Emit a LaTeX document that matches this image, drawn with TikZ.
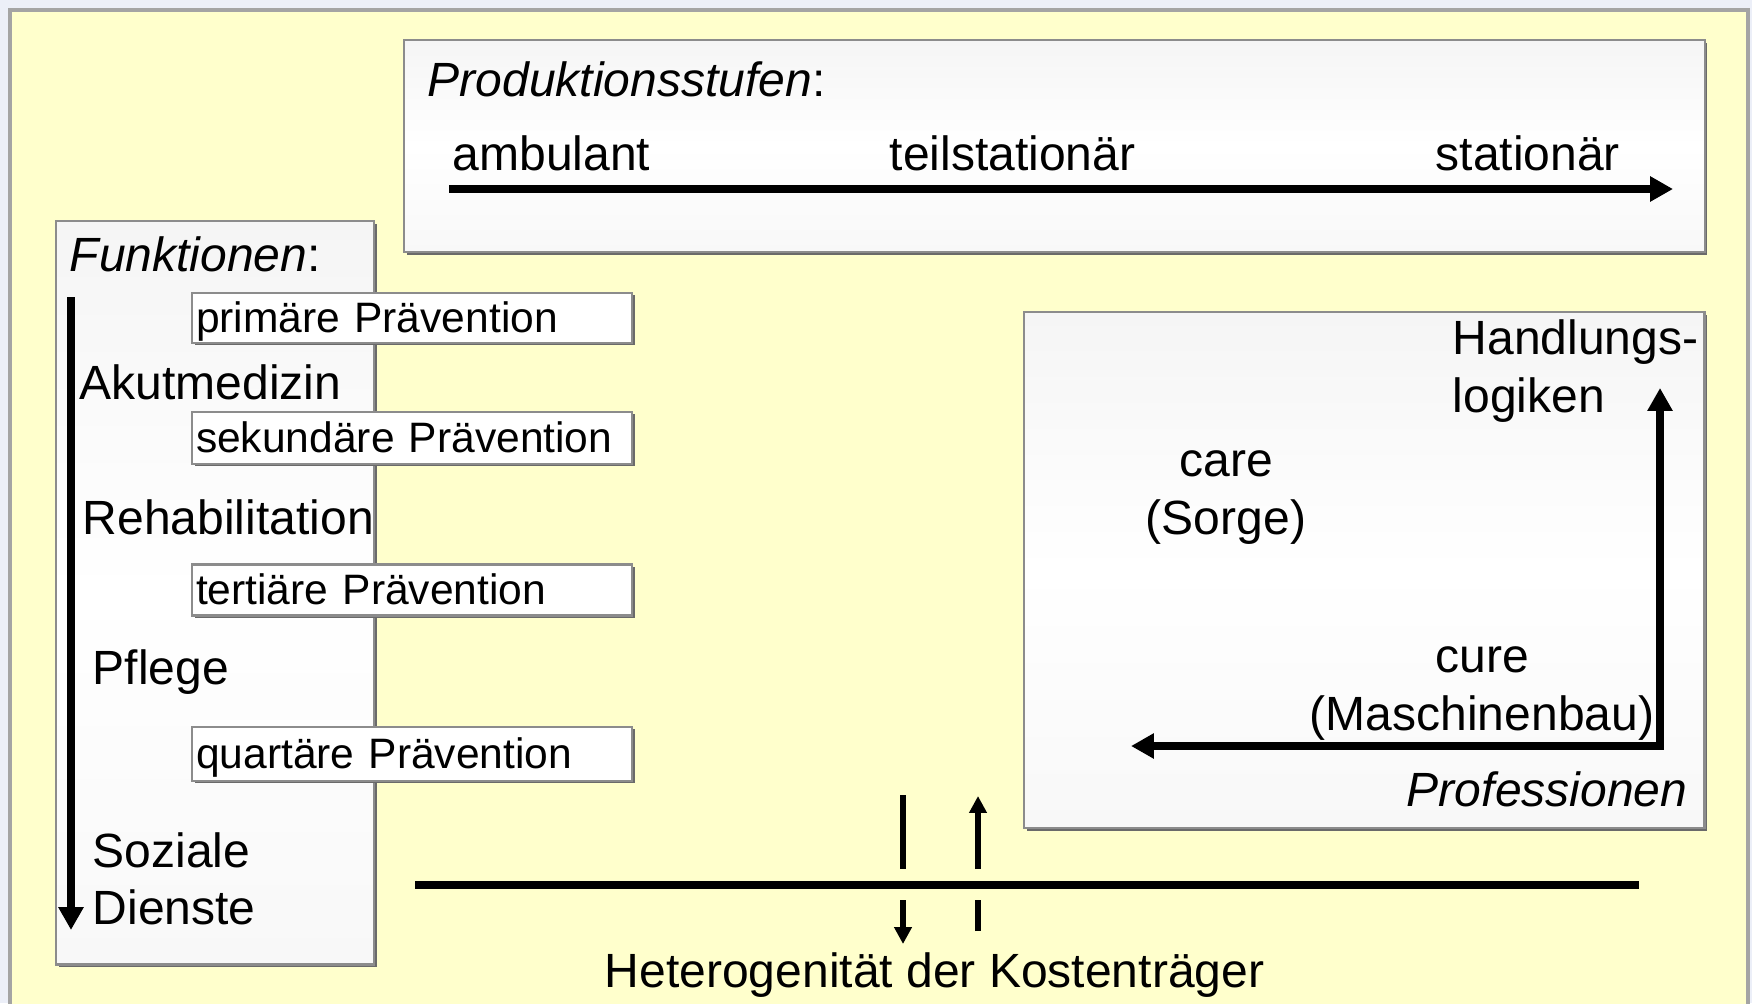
\documentclass[tikz,border=0pt]{standalone}
\usepackage{fontspec}
\setmainfont{Liberation Sans}
\usetikzlibrary{arrows.meta,shadows}
\definecolor{outerbg}{HTML}{ECEFF8}
\definecolor{panelyellow}{HTML}{FFFFCC}
\definecolor{panelborder}{HTML}{A4A4A4}
\definecolor{boxborder}{HTML}{8C8C8C}
\definecolor{boxshadow}{HTML}{6A6A6A}
\definecolor{boxgrey}{HTML}{F5F5F5}
\definecolor{boxgreyb}{HTML}{F8F8F8}
\begin{document}
\begin{tikzpicture}[x=0.01cm,y=-0.01cm,
  bigfont/.style={font=\fontsize{13.66pt}{15.6pt}\selectfont},
  lbl/.style={bigfont, inner sep=0pt, anchor=base west},
  clbl/.style={bigfont, inner sep=0pt, anchor=base},
  panelbox/.style={draw=boxborder, line width=0.6pt, top color=boxgrey, bottom color=boxgreyb, middle color=white,
    drop shadow={shadow xshift=0.7pt, shadow yshift=-0.7pt, fill=boxshadow, opacity=1},
    inner sep=0pt, anchor=north west},
  prevbox/.style={draw=boxborder, line width=0.6pt, fill=white,
    drop shadow={shadow xshift=0.7pt, shadow yshift=-0.7pt, fill=boxshadow, opacity=1},
    anchor=west, minimum width=4.4cm, inner xsep=0.04cm, inner ysep=0pt,
    text width=4.32cm, align=left, text height=0.34cm, text depth=0.06cm,
    font=\fontsize{12.1pt}{14pt}\selectfont},
  thickarrow/.style={line width=2.3pt, -{Triangle[length=6.5pt,width=6.8pt]}},
  thinarrow/.style={line width=1.7pt, -{Triangle[length=4.8pt,width=4.8pt]}},
  thinline/.style={line width=1.7pt}
]
\useasboundingbox (0,0) rectangle (1752,1003);
\fill[outerbg] (0,0) rectangle (1752,1003);
\draw[panelborder, line width=1pt, fill=panelyellow] (10,10) rectangle (1748,1020);

% boxes
\node[panelbox, minimum width=13.0cm, minimum height=2.12cm] (prod) at (403,39) {};
\node[panelbox, minimum width=3.18cm, minimum height=7.43cm] (func) at (55,220) {};
\node[panelbox, minimum width=6.8cm, minimum height=5.16cm] (prof) at (1023,311) {};

% Produktionsstufen
\node[lbl] (prodt) at (427,97) {\textit{Produktionsstufen}:};
\node[lbl] (amb) at (452,170) {ambulant};
\node[lbl] (teil) at (889,170) {teilstationär};
\node[lbl] (stat) at (1435,170) {stationär};
\coordinate (pa0) at (449,189);
\coordinate (pa1) at (1673,189);
\draw[thickarrow] (pa0) -- (pa1);

% Funktionen
\node[lbl] (funct) at (69,271) {\textit{Funktionen}:};
\coordinate (fa0) at (71,297);
\coordinate (fa1) at (71,930);
\draw[thickarrow] (fa0) -- (fa1);
\node[lbl] (akut) at (79,399) {Akutmedizin};
\node[lbl] (reha) at (82,534) {Rehabilitation};
\node[lbl] (pfl) at (92,684) {Pflege};
\node[lbl] (soz) at (92,867) {Soziale};
\node[lbl] (dien) at (92,924) {Dienste};

\node[prevbox, minimum height=0.50cm] (prim) at (191,318) {primäre Prävention};
\node[prevbox, minimum height=0.52cm] (sek) at (191,438) {sekundäre Prävention};
\node[prevbox, minimum height=0.51cm] (tert) at (191,590) {tertiäre Prävention};
\node[prevbox, minimum height=0.54cm] (quart) at (191,754) {quartäre Prävention};

% Professionen box
\node[lbl] (hand) at (1452,354) {Handlungs-};
\node[lbl] (logi) at (1452,412) {logiken};
\node[clbl] (care) at (1226,476) {care};
\node[clbl] (sorge) at (1226,534) {(Sorge)};
\node[clbl] (cure) at (1482,672) {cure};
\node[clbl] (masch) at (1482,730) {(Maschinenbau)};
\node[bigfont, inner sep=0pt, anchor=base east] (profs) at (1688,806) {\textit{Professionen}};
\coordinate (lc) at (1660,746);
\coordinate (lu) at (1660,388);
\coordinate (ll) at (1131,746);
\draw[line width=2.3pt, {Triangle[length=6.5pt,width=6.8pt]}-{Triangle[length=6.5pt,width=6.8pt]}, line join=miter] (ll) -- (lc) -- (lu);

% Kostentraeger
\coordinate (h0) at (415,885);
\coordinate (h1) at (1639,885);
\draw[line width=2.3pt] (h0) -- (h1);
\coordinate (d0) at (903,795);
\coordinate (d1) at (903,869);
\coordinate (d2) at (903,900);
\coordinate (d3) at (903,944);
\draw[thinline] (d0) -- (d1);
\draw[thinarrow] (d2) -- (d3);
\coordinate (u0) at (978,931);
\coordinate (u1) at (978,900);
\coordinate (u2) at (978,869);
\coordinate (u3) at (978,796);
\draw[thinline] (u0) -- (u1);
\draw[thinarrow] (u2) -- (u3);
\node[lbl] (het) at (604,987) {Heterogenität der Kostenträger};
\end{tikzpicture}
\end{document}
